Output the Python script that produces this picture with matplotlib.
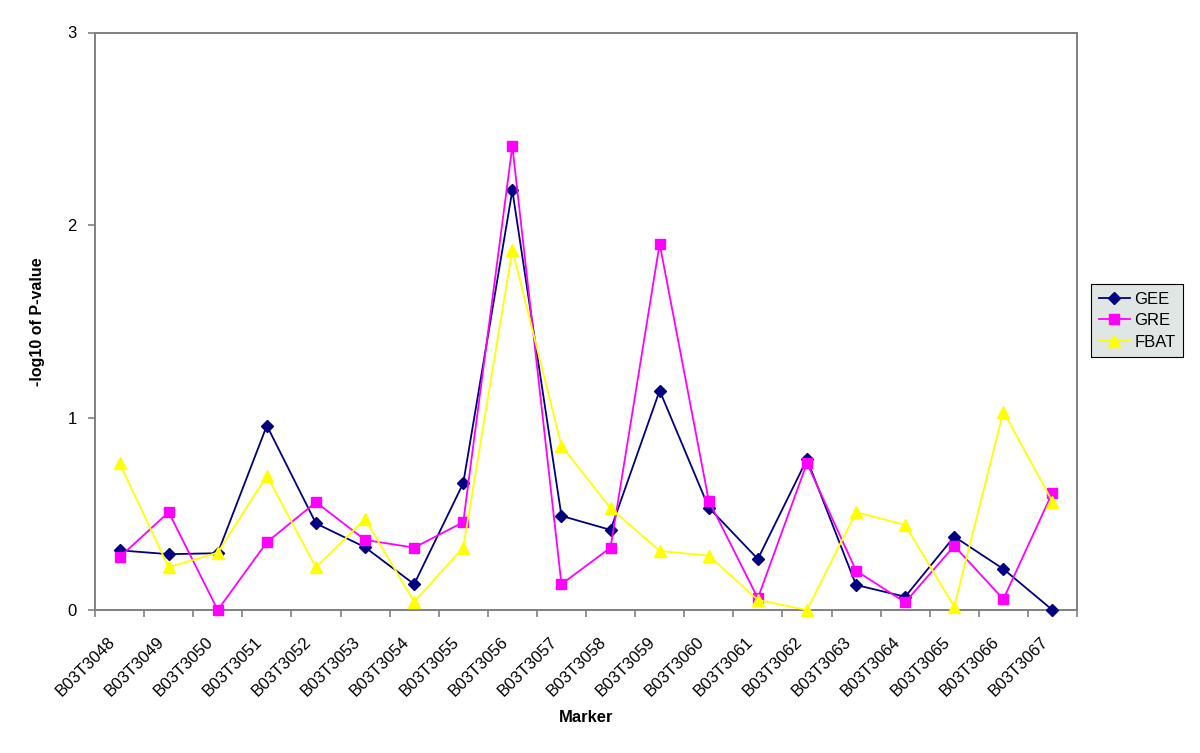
import matplotlib
matplotlib.use("Agg")
import matplotlib.pyplot as plt
import matplotlib.transforms as mtransforms
import numpy as np

markers = ["B03T3048", "B03T3049", "B03T3050", "B03T3051", "B03T3052",
           "B03T3053", "B03T3054", "B03T3055", "B03T3056", "B03T3057",
           "B03T3058", "B03T3059", "B03T3060", "B03T3061", "B03T3062",
           "B03T3063", "B03T3064", "B03T3065", "B03T3066", "B03T3067"]
gee = [0.31, 0.29, 0.295, 0.958, 0.45, 0.326, 0.134, 0.659, 2.18, 0.489,
       0.416, 1.14, 0.532, 0.265, 0.783, 0.13, 0.069, 0.381, 0.213, 0.0]
gre = [0.274, 0.508, 0.0, 0.352, 0.56, 0.364, 0.324, 0.456, 2.41, 0.134,
       0.324, 1.903, 0.568, 0.061, 0.763, 0.204, 0.04, 0.333, 0.056, 0.61]
fbat = [0.763, 0.222, 0.298, 0.697, 0.222, 0.472, 0.043, 0.324, 1.872, 0.853,
        0.529, 0.307, 0.282, 0.052, 0.0, 0.508, 0.442, 0.017, 1.031, 0.563]
yticks = [0, 1, 2, 3]

plt.rcParams['font.family'] = ['Liberation Sans', 'DejaVu Sans']

fig = plt.figure(figsize=(12, 7.53), dpi=100)
ax = fig.add_axes([95/1200, 1-610/753, (1077-95)/1200, (610-32.5)/753])

x = np.arange(len(markers))
ax.plot(x, gee, color='#000080', marker='D', markersize=6.5, linewidth=1.3,
        label='GEE', clip_on=False, zorder=3)
ax.plot(x, gre, color='#ff00ff', marker='s', markersize=7.5, linewidth=1.3,
        label='GRE', clip_on=False, zorder=3)
ax.plot(x, fbat, color='#ffff00', marker='^', markersize=8.5, linewidth=1.3,
        label='FBAT', clip_on=False, zorder=3)

ax.set_xlim(-0.5, len(markers) - 0.5)
ax.set_ylim(0, 3)
ax.set_yticks(yticks)
ax.set_yticklabels([str(v) for v in yticks], fontsize=12)

ax.set_xticks(np.arange(-0.5, len(markers), 1.0))
ax.set_xticklabels([])
ax.set_xticks(x, minor=True)
ax.set_xticklabels(markers, minor=True, rotation=45, ha='right',
                   va='center', rotation_mode='anchor', fontsize=12)
ax.tick_params(axis='x', which='minor', length=0, pad=21)
ax.tick_params(axis='x', which='major', length=5, color='#808080', width=1.2)
ax.tick_params(axis='y', length=5, color='#808080', width=1.2, pad=8)

offset = mtransforms.ScaledTranslation(-0.07, 0, fig.dpi_scale_trans)
for lab in ax.xaxis.get_minorticklabels():
    lab.set_transform(lab.get_transform() + offset)

for s in ax.spines.values():
    s.set_color('#808080')
    s.set_linewidth(1.4)

ax.set_ylabel('-log10 of P-value', fontsize=11.5, fontweight='bold', labelpad=16)
ax.set_xlabel('Marker', fontsize=12, fontweight='bold', labelpad=8)

leg = fig.legend(loc='upper left', bbox_to_anchor=(1091/1200, 1-284/753),
                 fontsize=12, frameon=True, fancybox=False, shadow=False,
                 handlelength=1.9, handletextpad=0.25, borderpad=0.45,
                 labelspacing=0.4, borderaxespad=0)
leg.get_frame().set_facecolor('#dfe6e3')
leg.get_frame().set_edgecolor('#000000')
leg.get_frame().set_linewidth(0.8)
leg.get_frame().set_alpha(1)

fig.savefig('out.png', dpi=100)
